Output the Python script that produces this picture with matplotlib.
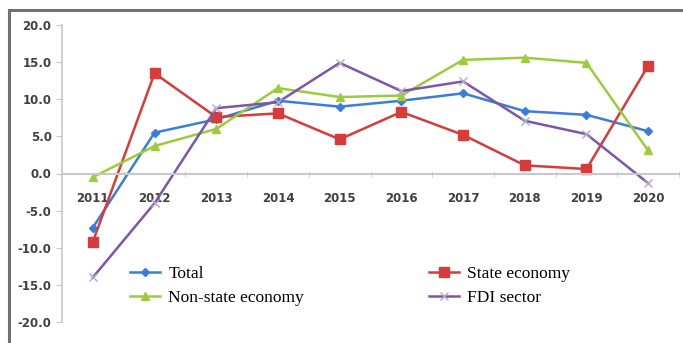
import matplotlib
matplotlib.use('Agg')
import matplotlib.pyplot as plt
from matplotlib.patches import Rectangle

years = ['2011', '2012', '2013', '2014', '2015', '2016', '2017', '2018', '2019', '2020']
total = [-7.3, 5.5, 7.3, 9.8, 9.0, 9.8, 10.8, 8.4, 7.9, 5.7]
state = [-9.2, 13.5, 7.6, 8.1, 4.6, 8.3, 5.2, 1.1, 0.6, 14.5]
non_state = [-0.5, 3.7, 6.0, 11.5, 10.3, 10.5, 15.3, 15.6, 14.9, 3.1]
fdi = [-14.0, -4.0, 8.8, 9.6, 14.9, 11.1, 12.4, 7.1, 5.3, -1.3]

fig = plt.figure(figsize=(6.83, 3.43), dpi=100)
# grey frame round the picture
fig.patches.append(Rectangle((9/683, -0.1), 1.2, 1 - 10/343 + 0.1, transform=fig.transFigure,
                             fill=False, edgecolor='#707070', linewidth=2.2))
ax = fig.add_axes([62/683, 1 - 322/343, 617/683, (322 - 25)/343])

x = range(len(years))
l1, = ax.plot(x, total, color='#3b7dd8', marker='D', markersize=4.5, lw=1.8, label='Total')
l2, = ax.plot(x, state, color='#d93a3a', marker='s', markersize=7, lw=1.8, label='State economy')
l3, = ax.plot(x, non_state, color='#9ccc3c', marker='^', markersize=6, lw=1.8, label='Non-state economy')
l4, = ax.plot(x, fdi, color='#7d55aa', marker='x', markersize=6, mec='#b0a8c8', lw=1.8, label='FDI sector')

ax.set_ylim(-20, 20)
ax.set_yticks([20, 15, 10, 5, 0, -5, -10, -15, -20])
ax.set_yticklabels(['%.1f' % v for v in [20, 15, 10, 5, 0, -5, -10, -15, -20]])
ax.set_xlim(-0.5, len(years) - 0.5)
ax.set_xticks(x)
ax.set_xticklabels(years)
ax.set_xticks([i + 0.5 for i in range(len(years))], minor=True)

for s in ['top', 'right']:
    ax.spines[s].set_visible(False)
ax.spines['bottom'].set_position(('data', 0))
ax.spines['bottom'].set_color('#c8c8c8')
ax.spines['bottom'].set_linewidth(1.5)
ax.spines['left'].set_color('#c8c8c8')
ax.spines['left'].set_linewidth(1.2)
ax.tick_params(axis='x', which='major', length=0, pad=13, labelsize=8.5, labelcolor='#404040')
ax.tick_params(axis='x', which='minor', length=4, direction='inout', color='#c8c8c8')
ax.tick_params(axis='y', length=4, color='#c8c8c8', labelsize=8.5, labelcolor='#404040')
for t in ax.get_xticklabels() + ax.get_yticklabels():
    t.set_fontweight('bold')

ax.legend([l1, l3, l2, l4], ['Total', 'Non-state economy', 'State economy', 'FDI sector'],
          ncol=2, frameon=False, loc='upper left', bbox_to_anchor=(0.085, 0.24),
          prop={'family': 'Liberation Serif', 'size': 12.5}, handlelength=1.7,
          columnspacing=7.2, labelspacing=0.42, handletextpad=0.5)

fig.savefig('out.png', dpi=100)
